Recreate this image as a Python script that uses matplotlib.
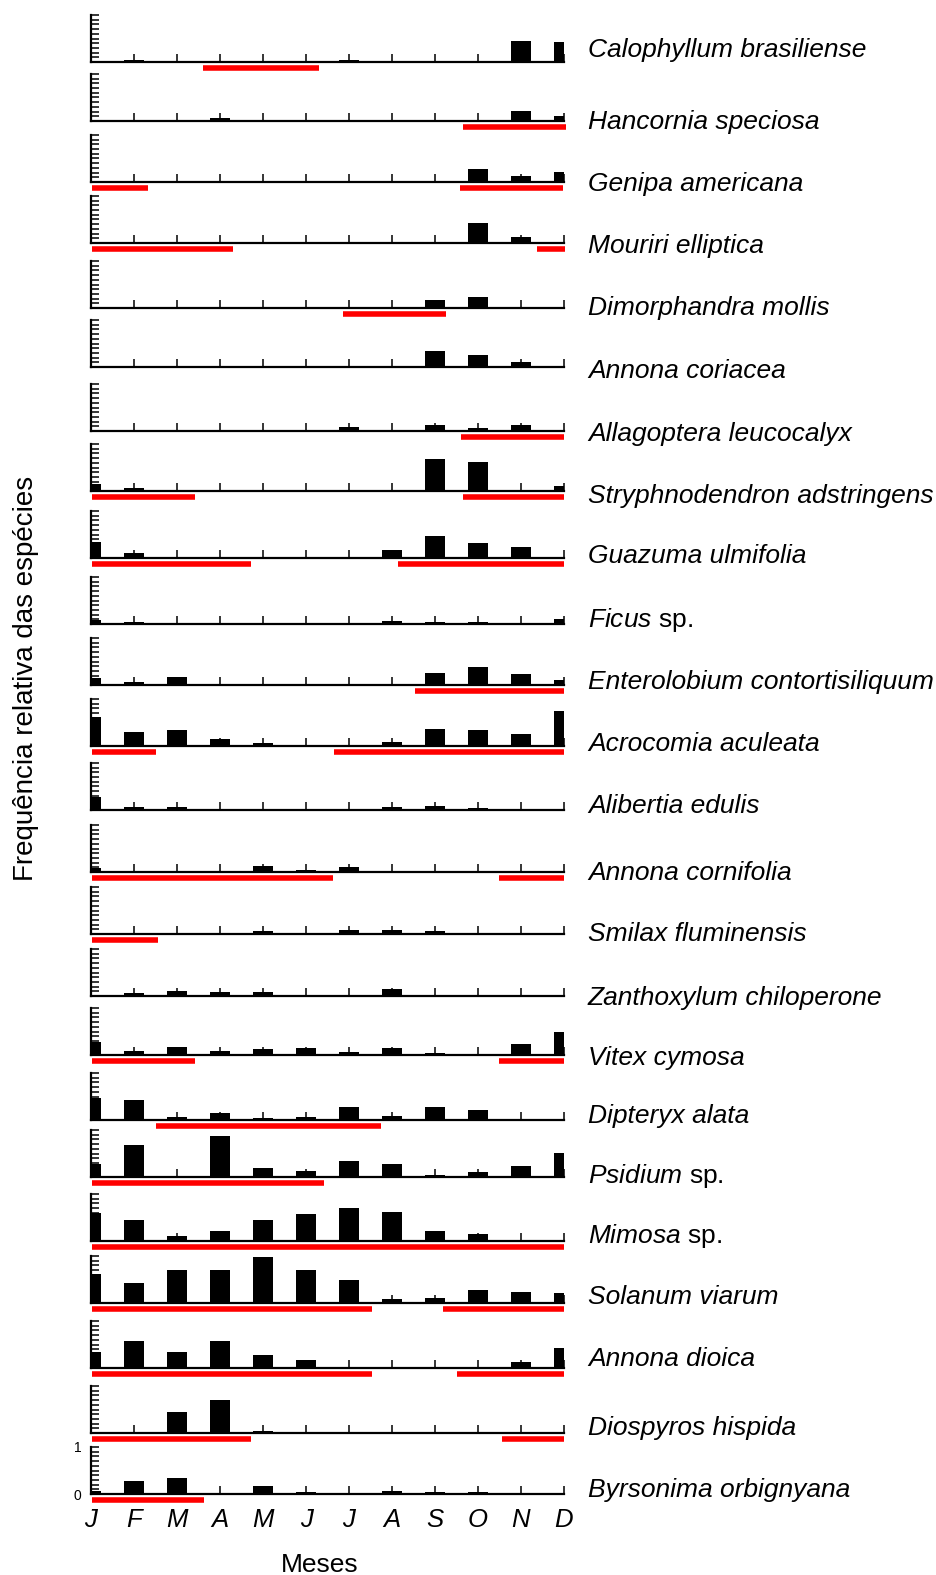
import numpy as np
import matplotlib.pyplot as plt

meses = ['J', 'F', 'M', 'A', 'M', 'J', 'J', 'A', 'S', 'O', 'N', 'D']

especies = ['Calophyllum brasiliense', 'Hancornia speciosa', 'Genipa americana',
            'Mouriri elliptica', 'Dimorphandra mollis', 'Annona coriacea',
            'Allagoptera leucocalyx', 'Stryphnodendron adstringens', 'Guazuma ulmifolia',
            'Ficus sp.', 'Enterolobium contortisiliquum', 'Acrocomia aculeata',
            'Alibertia edulis', 'Annona cornifolia', 'Smilax fluminensis',
            'Zanthoxylum chiloperone', 'Vitex cymosa', 'Dipteryx alata',
            'Psidium sp.', 'Mimosa sp.', 'Solanum viarum', 'Annona dioica',
            'Diospyros hispida', 'Byrsonima orbignyana']

# frequencia relativa por mes (J..D), uma lista por especie
freq = [
    [0, 0.04, 0, 0, 0, 0, 0.04, 0, 0, 0, 0.45, 0.42],
    [0, 0, 0, 0.07, 0, 0, 0, 0, 0, 0, 0.22, 0.11],
    [0, 0, 0, 0, 0, 0, 0, 0, 0, 0.27, 0.12, 0.21],
    [0, 0, 0, 0, 0, 0, 0, 0, 0, 0.43, 0.13, 0],
    [0, 0, 0, 0, 0, 0, 0, 0, 0.18, 0.23, 0, 0],
    [0, 0, 0, 0, 0, 0, 0, 0, 0.33, 0.26, 0.11, 0],
    [0, 0, 0, 0, 0, 0, 0.08, 0, 0.13, 0.06, 0.13, 0],
    [0.15, 0.06, 0.01, 0.01, 0.01, 0.01, 0.01, 0.01, 0.68, 0.61, 0.01, 0.11],
    [0.34, 0.10, 0, 0, 0, 0, 0, 0.16, 0.46, 0.31, 0.23, 0],
    [0.09, 0.05, 0, 0, 0, 0, 0, 0.07, 0.04, 0.04, 0, 0.11],
    [0.15, 0.06, 0.16, 0.01, 0.01, 0.01, 0.01, 0.01, 0.25, 0.38, 0.23, 0.11],
    [0.61, 0.29, 0.35, 0.14, 0.06, 0, 0, 0.09, 0.37, 0.35, 0.25, 0.74],
    [0.28, 0.06, 0.06, 0, 0, 0, 0, 0.06, 0.09, 0.04, 0, 0],
    [0.08, 0.01, 0.01, 0.01, 0.12, 0.04, 0.11, 0.01, 0.01, 0.01, 0.01, 0.01],
    [0, 0, 0, 0, 0.06, 0, 0.08, 0.09, 0.06, 0, 0, 0],
    [0, 0.06, 0.11, 0.08, 0.08, 0, 0, 0.14, 0, 0, 0, 0],
    [0.28, 0.09, 0.16, 0.08, 0.12, 0.14, 0.07, 0.14, 0.05, 0, 0.23, 0.50],
    [0.47, 0.42, 0.06, 0.14, 0.04, 0.06, 0.28, 0.08, 0.28, 0.21, 0.01, 0.01],
    [0.28, 0.69, 0, 0.88, 0.20, 0.13, 0.33, 0.28, 0.05, 0.11, 0.24, 0.52],
    [0.60, 0.44, 0.11, 0.21, 0.44, 0.57, 0.70, 0.61, 0.21, 0.15, 0, 0],
    [0.61, 0.43, 0.70, 0.70, 0.98, 0.70, 0.49, 0.08, 0.10, 0.28, 0.23, 0.21],
    [0.33, 0.57, 0.33, 0.57, 0.27, 0.16, 0, 0, 0, 0, 0.12, 0.42],
    [0, 0, 0.44, 0.70, 0.05, 0, 0, 0, 0, 0, 0, 0],
    [0.07, 0.28, 0.35, 0, 0.16, 0.05, 0, 0.07, 0.04, 0.04, 0, 0],
]

# periodos em vermelho (inicio, fim) em meses, 0 = janeiro
periodos = [
    [(2.6, 5.3)],
    [(8.65, 11.05)],
    [(0.02, 1.33), (8.58, 10.98)],
    [(0.02, 3.30), (10.37, 11.02)],
    [(5.87, 8.25)],
    [],
    [(8.6, 11.0)],
    [(0.02, 2.42), (8.65, 11.0)],
    [(0.02, 3.72), (7.15, 11.0)],
    [],
    [(7.53, 11.0)],
    [(0.02, 1.52), (5.66, 11.0)],
    [],
    [(0.02, 5.63), (9.48, 11.0)],
    [(0.02, 1.55)],
    [],
    [(0.02, 2.43), (9.48, 11.0)],
    [(1.52, 6.74)],
    [(0.02, 5.41)],
    [(0.02, 11.0)],
    [(0.02, 6.53), (8.18, 11.0)],
    [(0.02, 6.53), (8.5, 11.0)],
    [(0.02, 3.72), (9.55, 11.0)],
    [(0.02, 2.62)],
]

# linha de base de cada painel e centro de cada nome, em pixels a partir do topo
bases = [62, 121, 182, 243, 308, 367, 431, 491, 558, 624, 685, 746,
         810, 872, 934, 996, 1055, 1120, 1177, 1241, 1303, 1368, 1433, 1494]
y_nomes = [48, 120, 182, 244, 306, 368, 431, 493, 553, 617, 679, 741,
           803, 871, 932, 995, 1055, 1113, 1173, 1233, 1294, 1356, 1426, 1488]

plt.rcParams['font.family'] = ['Liberation Sans', 'DejaVu Sans']
plt.rcParams['mathtext.fontset'] = 'custom'
plt.rcParams['mathtext.it'] = 'Liberation Sans:italic'
plt.rcParams['mathtext.rm'] = 'Liberation Sans'

W, H = 937, 1575
fig = plt.figure(figsize=(W / 100, H / 100), dpi=100)
x = np.arange(12)

for i, nome in enumerate(especies):
    ax = fig.add_axes([91 / W, 1 - bases[i] / H, 473 / W, 47 / H])
    ax.bar(x, freq[i], width=0.47, color='black')
    for ini, fim in periodos[i]:
        ax.plot([ini, fim], [-0.128, -0.128], color='red', lw=4,
                solid_capstyle='butt', clip_on=False)
    ax.set_xlim(0, 11)
    ax.set_ylim(0, 1)
    ax.set_xticks(x)
    ax.set_yticks([0, 1])
    ax.set_yticks(np.arange(0.1, 1.0, 0.1), minor=True)
    ax.spines['top'].set_visible(False)
    ax.spines['right'].set_visible(False)
    ax.spines['left'].set_linewidth(1.6)
    ax.spines['bottom'].set_linewidth(1.6)
    ax.tick_params(axis='both', which='both', direction='in', length=6, width=1.1)
    last = i == len(especies) - 1
    ax.tick_params(labelbottom=last, labelleft=last)
    if last:
        ax.set_xticklabels(meses, fontstyle='italic', fontsize=18.5)
        ax.tick_params(axis='x', pad=10)
        ax.tick_params(axis='y', labelsize=10, pad=7)

    # nome da especie, "sp." sem italico
    if nome.endswith(' sp.'):
        rotulo = r'$\it{' + nome[:-4] + '}$ sp.'
        estilo = 'normal'
    else:
        rotulo = nome
        estilo = 'italic'
    fig.text(588 / W, 1 - (y_nomes[i] + 9.5) / H, rotulo, ha='left',
             va='baseline', fontsize=19, fontstyle=estilo)

fig.text(26 / W, 1 - 678 / H, 'Frequência relativa das espécies', rotation=90,
         ha='center', va='center', fontsize=20)
fig.text(320 / W, 1 - 1565 / H, 'Meses', ha='center', va='center', fontsize=19)

plt.savefig('out.png', dpi=100)
